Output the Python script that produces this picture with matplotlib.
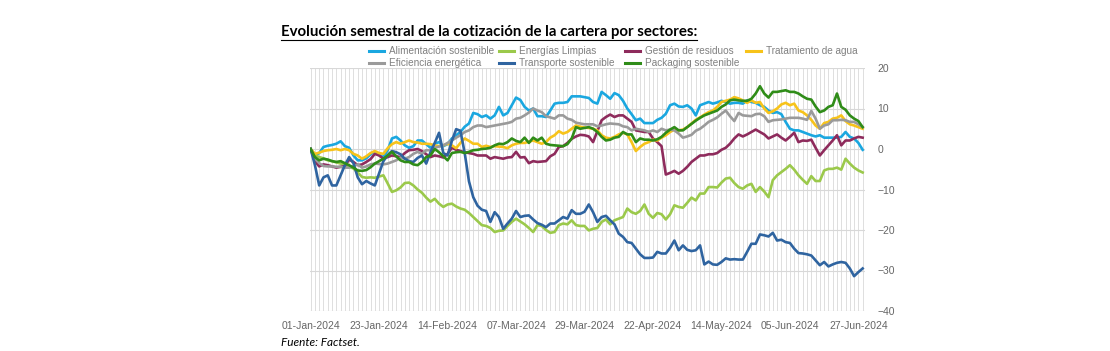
import numpy as np
import pandas as pd
import matplotlib
matplotlib.use("Agg")
import matplotlib.pyplot as plt
from matplotlib.lines import Line2D

# business days, 01-Jan-2024 .. 28-Jun-2024
dates = pd.bdate_range("2024-01-01", periods=130)

alimentacion = [
    0, -1.6, -1, 0.5, 0.8, 1, 1.3, 1.9, 0.7, 0.3,
    -1.6, -2.8, -2.8, -2.3, -1.3, -0.7, -1.5, -2, -0.3, 2.6,
    3, 2.1, 0.9, 0.3, 0.7, 2.1, 2.1, 1.2, 0.3, 1.3,
    1.7, 0.7, 1.2, 2.6, 3.4, 4.2, 5.5, 6.3, 8.9, 8.6,
    7.9, 8.3, 7.5, 8.3, 10.4, 8.3, 8.9, 10.8, 12.7, 12.1,
    10.4, 9.5, 10, 8.1, 8.1, 7.9, 9.5, 11.2, 11.4, 11.4,
    11.6, 13, 13, 13, 12.8, 12.6, 11.6, 11.2, 14.1, 13.3,
    12.4, 13.8, 13.3, 11.9, 10, 8.6, 7.1, 7.5, 6.4, 6.4,
    6.4, 7.2, 7.7, 8.7, 10.8, 11.2, 10.5, 10.4, 10.8, 10,
    8.3, 10.8, 11.2, 11.6, 11.2, 11.5, 11.9, 11.6, 11.2, 11.4,
    11.4, 11.2, 12, 11.6, 11.4, 10.8, 10.4, 9.5, 8.9, 9.1,
    8.6, 6.7, 5, 4.6, 4.6, 4.2, 3.8, 3.4, 3.1, 3.4,
    2.8, 2.8, 2.8, 2.8, 3, 4.2, 3, 2.6, 1.5, -0.2,
]
energias = [
    0, -1.5, -2, -2.3, -2.8, -3, -3.3, -3.6, -3.8, -4.4,
    -4.8, -5.8, -6.9, -7.1, -7, -7.1, -6.8, -6.5, -8.5, -10.6,
    -10.2, -9.5, -8.4, -8.3, -9, -10, -10.8, -12, -13, -12.3,
    -13.5, -14.3, -13.7, -13.5, -14.2, -14.7, -15, -15.8, -16.8, -17.8,
    -18.8, -19, -19.5, -20.5, -20.2, -20.1, -19, -18, -17.2, -17.9,
    -18.6, -19.5, -20.5, -18.8, -19, -20, -20.7, -20.5, -18.8, -18.4,
    -18.6, -17.6, -18.8, -19, -19, -20.1, -19.7, -19.5, -18, -17.4,
    -18.6, -17.6, -17.2, -16.8, -14.7, -15.6, -16, -15.3, -13.7, -16,
    -17, -15.8, -16.1, -17.4, -16.1, -13.9, -14.3, -14.5, -13.3, -12,
    -12.7, -11, -11, -9.4, -9.4, -9.5, -8.3, -7.3, -7.1, -8.4,
    -9.4, -9.8, -9, -8.6, -10.6, -9.4, -10.5, -11.9, -7.7, -6.5,
    -5.7, -4.9, -4, -5.1, -6.5, -7.6, -8.6, -6.7, -7.9, -7.9,
    -5.3, -4.9, -4.9, -4.6, -5.1, -2.4, -3.6, -4.6, -5.3, -5.8,
]
residuos = [
    0, -3, -4.3, -3.8, -4, -4.3, -4.6, -4.4, -4.2, -2.6,
    -3.2, -4, -3.8, -3.2, -2.5, -1.2, -1.6, -2.4, -2, -1.6,
    -1.8, -2, -1, -0.3, -0.2, 0, -0.5, -1.3, -2, -1.6,
    -1.8, -2.1, -1.2, 0.3, -0.2, -0.5, -0.8, -1, -1.2, -1.6,
    -1.6, -1.6, -2.4, -2, -2.2, -2.4, -2.1, -2, -0.7, -2.1,
    -2, -3.5, -3, -3.2, -3.1, -3, -1.8, -1.2, 0.5, 0.7,
    1.5, 2.5, 3.1, 3.5, 3.4, 3.1, 1.7, 4.4, 7.1, 7.9,
    8.5, 7.9, 8.3, 8.3, 7.5, 6.7, 4.6, 4.4, 4.2, 4.2,
    2.6, 1.7, 0.7, -6.3, -5.9, -5.4, -6.1, -5.4, -4.4, -3.2,
    -2.4, -1.6, -1.6, -1.3, -1.3, -1, -0.2, 0.3, 1.3, 2.6,
    3.6, 3.1, 3.6, 4.2, 4.8, 4.2, 3.6, 2.6, 3.1, 3.6,
    2.8, 2.1, 3, 4, 1.7, 2.1, 2, 2.3, 0.3, -1.6,
    -0.3, 0.9, 2.1, 3.4, 0.9, 2.1, 2.1, 2.6, 3, 2.8,
]
tratamiento = [
    0, -1.2, -0.9, -0.5, -0.3, -0.2, 0, -0.3, 0, -0.3,
    -1.2, -1.6, -2.4, -1.8, -1, -0.5, -1, -1.2, 0.2, 1.2,
    1.7, 1.3, 1.7, 2.1, 1.7, 1.6, 1.3, 1.3, 1.2, 0.9,
    0.7, 0.9, 1.3, 0.9, 0.2, 1.5, 2.6, 2, 1.3, 1.3,
    0.5, 0.8, 0.5, 0.7, 0.6, 0.5, 0.2, 0.9, 1.3, 1.5,
    1.5, 1.8, 2.1, 1.7, 1.3, 1.7, 2.8, 3.4, 4.4, 3.8,
    4.2, 5, 5.8, 5.5, 5.3, 5.2, 5, 4.6, 3.4, 2.8,
    2.6, 3, 3.6, 4, 3.6, 1.7, -0.5, 0.5, 1.3, 1.7,
    2.3, 2.1, 2.8, 3.4, 4.2, 4.8, 4.6, 4.8, 5.4, 6.3,
    7.2, 7.8, 8.5, 9.1, 9.5, 10.4, 11.6, 11.9, 12.2, 12.8,
    12.5, 12, 11.4, 12, 11.4, 11.6, 10, 8.9, 9.3, 10,
    11, 11.4, 10.8, 11.2, 9.5, 9.1, 8.3, 7.2, 5.8, 5,
    6.4, 6.7, 7.5, 7.7, 8.3, 6.9, 6.1, 5.8, 5.4, 5,
]
eficiencia = [
    0, -2.4, -3.5, -4.2, -4.3, -4.3, -4.4, -4.4, -4.6, -4.6,
    -4.2, -3.8, -4.6, -4.3, -3.8, -3.6, -3.7, -3.8, -3.6, -3.2,
    -2.8, -2.1, -2.4, -2, -1.2, -0.7, -1.2, -0.3, -0.3, 0.3,
    0.6, 0.9, 1.5, 2.1, 2.8, 3.4, 4.2, 4.6, 5.4, 5.8,
    5.8, 5.4, 5.6, 5.8, 6, 6.2, 6.4, 6.7, 7.5, 7.7,
    8.3, 9, 10, 9.5, 9.1, 8.1, 7.8, 7.5, 8.3, 8.3,
    7.5, 7.2, 6.5, 6.3, 6.1, 6.1, 6.1, 5.6, 5.8, 6.1,
    6.3, 6.2, 6.1, 5.6, 5.4, 4.6, 5, 4.8, 4.6, 4.2,
    4.6, 4.2, 5, 4.6, 4.8, 4.6, 3.8, 2.8, 3.1, 3.5,
    4.5, 5, 5.8, 6.7, 7.2, 7.8, 8.7, 9.5, 8.1, 6.9,
    8.9, 8.3, 8.2, 8.1, 8.6, 8.7, 8.1, 6.7, 7.1, 7.2,
    7.3, 7.5, 7.7, 7.7, 7.7, 7.5, 7.2, 9.4, 7.5, 5,
    5.8, 6.1, 7.1, 7.1, 7.2, 7.1, 6.7, 6.7, 6.1, 5.4,
]
transporte = [
    0, -4, -9, -7, -6.5, -9, -9, -6.5, -4, -2,
    -3.5, -7, -8.7, -7.9, -8.5, -9, -6, -3, -1.5, -0.5,
    -0.8, -1.3, -2.4, -3, -3.2, -2.2, -1.6, -3.6, -0.8, 1.5,
    4, -1, -1.6, 2, 4.9, 4.5, -1, -8, -11.9, -14,
    -15, -15.3, -18, -15.6, -16.8, -19.7, -18.4, -17.2, -15.3, -16.8,
    -16.5, -16.4, -17.4, -18.3, -18.7, -19.3, -18.4, -18.4, -17.6, -16.8,
    -17.2, -15.1, -16, -16, -15.5, -13.7, -15.6, -18, -16.8, -16.5,
    -17.6, -18.6, -20.9, -21.7, -23, -23.2, -24.6, -26, -26.9, -26.9,
    -26.8, -25.4, -25.8, -25.8, -24.4, -22.6, -25, -23.8, -24.9, -25.2,
    -25, -23.8, -28.5, -27.8, -28.5, -28.6, -27.9, -27, -27.3, -27.2,
    -27.3, -27.3, -25.4, -23.4, -23.4, -21.1, -21.3, -21.6, -20.7, -22.6,
    -22.4, -23, -23.2, -24.6, -25.7, -25.8, -26, -26.3, -27.5, -28.7,
    -27.9, -29, -28.5, -28.1, -27.9, -28.1, -29.5, -31.4, -30.4, -29.5,
]
packaging = [
    0, -2, -2.8, -2.4, -2.6, -3, -3.2, -3, -3.5, -4,
    -4.6, -5.3, -5.4, -5.2, -4.5, -3.6, -3, -2.4, -1.6, -0.7,
    -1.8, -2.8, -3.2, -3.2, -3.8, -4, -3.2, -2, -1.6, 0,
    -0.8, -1.8, -2.8, -1, -0.8, -0.7, -1, -0.7, -0.3, -0.2,
    0, 0.1, 0.3, 0.9, 1.3, 1.2, 1.7, 2.6, 2, 1.7,
    2.8, 1.5, 2.8, 2.1, 2.8, 1.3, 1, 0.9, 0.8, 0.7,
    1.2, 2.6, 5.4, 5, 5.2, 5.4, 5, 4.2, 3, 2.1,
    2.3, 2.8, 3, 4.2, 3.6, 3.6, 1.7, 2.6, 2.3, 2.3,
    2.1, 2.4, 3, 4, 4.8, 5.4, 4.6, 4.6, 5.4, 6.2,
    7, 7.7, 8.3, 8.7, 9.1, 9.5, 10.4, 11, 12, 12.2,
    12, 11.9, 11.9, 12.4, 13.7, 15.5, 13.7, 12.7, 14.1, 14.1,
    14.3, 14.5, 14.1, 14.1, 13.7, 13, 12.4, 12.2, 10.5, 9.1,
    9.5, 10.4, 10.8, 13.7, 10.4, 9.7, 8.3, 7.5, 6.9, 5.4,
]

series = [
    ("Alimentación sostenible", alimentacion, "#1aa7e0"),
    ("Energías Limpias", energias, "#9bc94b"),
    ("Gestión de residuos", residuos, "#8e2b5c"),
    ("Tratamiento de agua", tratamiento, "#f7c31a"),
    ("Eficiencia energética", eficiencia, "#9a9a9a"),
    ("Transporte sostenible", transporte, "#2f64a0"),
    ("Packaging sostenible", packaging, "#2f8c18"),
]

W, H = 1110, 351
fig = plt.figure(figsize=(W / 100, H / 100), dpi=100)
ax = fig.add_axes([309.8 / W, (H - 311) / H, 555.0 / W, 243.0 / H])

x = np.arange(len(dates))
for name, vals, col in series:
    ax.plot(x, vals, color=col, lw=1.9, solid_joinstyle="round")

ax.set_xlim(-0.2, 129.5)
ax.set_ylim(-40, 20)
ax.set_yticks(range(-40, 21, 10))
for v in x:
    ax.axvline(v, color="#dedede", lw=0.7, zorder=0)
ax.yaxis.grid(True, color="#d8d8d8", lw=0.8)
ax.set_axisbelow(True)
for s in ax.spines.values():
    s.set_visible(False)
ax.yaxis.tick_right()
ax.tick_params(axis="y", length=0, pad=9, labelsize=7.5, labelcolor="#666666")
ax.tick_params(axis="x", length=0, pad=7, labelsize=7.5, labelcolor="#666666")
tick_idx = list(range(0, 130, 16))
ax.set_xticks(tick_idx)
ax.set_xticklabels([dates[i].strftime("%d-%b-%Y") for i in tick_idx])
for lab in ax.get_xticklabels() + ax.get_yticklabels():
    lab.set_family("Liberation Sans")

# legend, two rows laid out like the original
col_x = [369, 499, 625, 746]
row_y = [51, 63]
slots = [(0, 0), (1, 0), (2, 0), (3, 0), (0, 1), (1, 1), (2, 1)]
for (name, vals, col), (c, r) in zip(series, slots):
    x0 = col_x[c]
    y0 = (H - row_y[r]) / H
    fig.add_artist(Line2D([x0 / W, (x0 + 15) / W], [y0, y0], color=col, lw=2.2))
    fig.text((x0 + 20) / W, y0, name, fontsize=7.2, color="#808080",
             family="Liberation Sans", va="center", ha="left")

title = fig.text(281 / W, (H - 32) / H,
                 "Evolución semestral de la cotización de la cartera por sectores:",
                 fontsize=10.8, fontweight="bold", family="Lato", va="center", ha="left")
fig.canvas.draw()
bb = title.get_window_extent()
ul_y = (bb.y0 - 0.5) / H
fig.add_artist(Line2D([bb.x0 / W, bb.x1 / W], [ul_y, ul_y], color="black", lw=0.8))

fig.text(281 / W, (H - 343) / H, "Fuente: Factset.", fontsize=8.5, style="italic",
         family="Lato", va="center", ha="left")

fig.savefig("out.png", dpi=100)
